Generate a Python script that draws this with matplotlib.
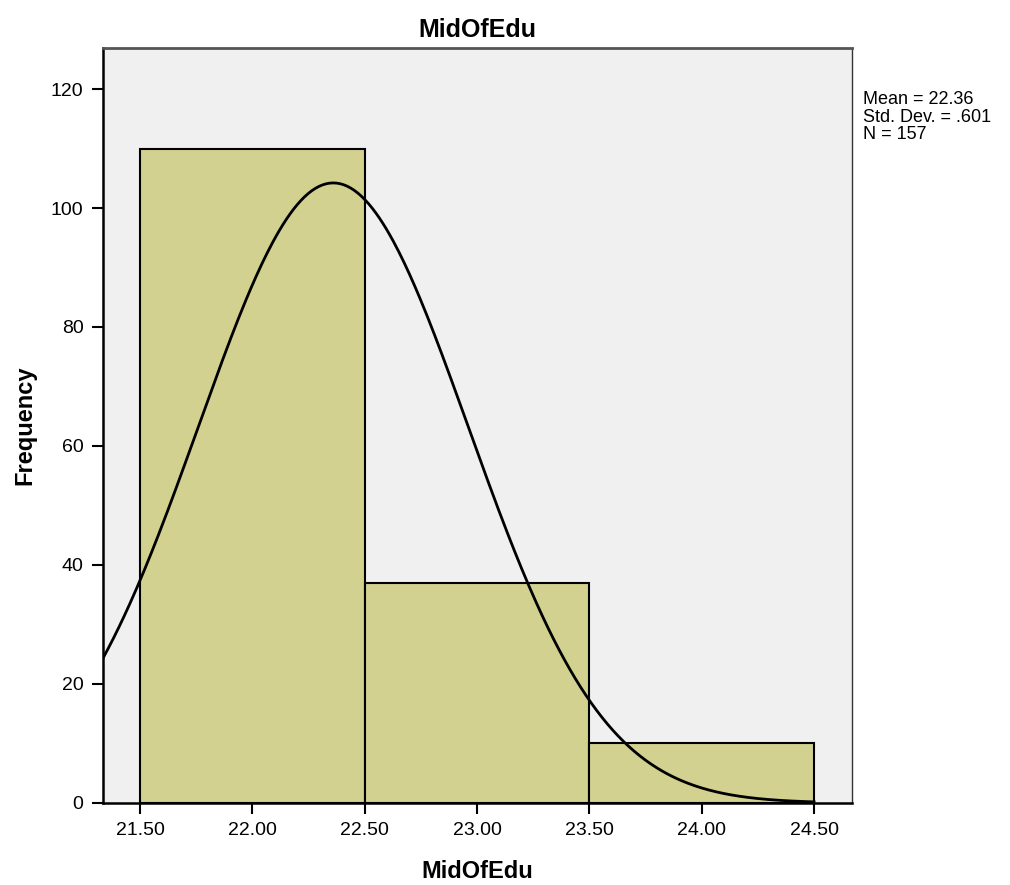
import numpy as np
import matplotlib.pyplot as plt
from matplotlib.ticker import FormatStrFormatter

plt.rcParams['font.family'] = ['Liberation Sans Narrow', 'Liberation Sans', 'DejaVu Sans']

# histogram of MidOfEdu, bins of width 1
bin_edges = [21.5, 22.5, 23.5, 24.5]
counts = [110, 37, 10]
mean = 22.36
std = 0.601
n = 157

fig = plt.figure(figsize=(10.1, 8.85), dpi=100)
ax = fig.add_axes([0.102, 0.0927, 0.7416, 0.8531])
ax.set_facecolor('#F0F0F0')

ax.bar(bin_edges[:-1], counts, width=np.diff(bin_edges), align='edge',
       color='#D2D18F', edgecolor='black', linewidth=1.5, zorder=2)

# normal curve scaled to counts
xmin, xmax = 21.335, 24.669
xs = np.linspace(xmin, bin_edges[-1], 400)
bw = bin_edges[1] - bin_edges[0]
ys = n * bw / (std * np.sqrt(2 * np.pi)) * np.exp(-0.5 * ((xs - mean) / std) ** 2)
ax.plot(xs, ys, color='black', linewidth=2, zorder=3)

ax.set_xlim(xmin, xmax)
ax.set_ylim(0, 126.9)
ax.set_xticks(np.arange(21.5, 24.51, 0.5))
ax.xaxis.set_major_formatter(FormatStrFormatter('%.2f'))
ax.set_yticks(range(0, 121, 20))
ax.tick_params(direction='out', length=8, width=1.5, labelsize=14, pad=6)

for side in ['left', 'bottom']:
    ax.spines[side].set_linewidth(1.8)
    ax.spines[side].set_color('black')
ax.spines['top'].set_color('#555555')
ax.spines['top'].set_linewidth(2)
ax.spines['right'].set_color('#333333')
ax.spines['right'].set_linewidth(1)

bold_font = ['Liberation Sans', 'DejaVu Sans']
fig.text(477 / 1010, 1 - 30 / 885, 'MidOfEdu', fontsize=18, fontweight='bold',
         ha='center', va='center', family=bold_font)
fig.text(477 / 1010, 1 - 872 / 885, 'MidOfEdu', fontsize=17, fontweight='bold',
         ha='center', va='center', family=bold_font)
fig.text(25 / 1010, 1 - 425 / 885, 'Frequency', fontsize=17, fontweight='bold',
         ha='center', va='center', rotation=90, family=bold_font)

fig.text(863 / 1010, 1 - 91 / 885,
         'Mean = %.2f\nStd. Dev. = %s\nN = %d' % (mean, ('%.3f' % std)[1:], n),
         fontsize=13, va='top', ha='left', linespacing=1.05)

fig.savefig('out.png', dpi=100)
